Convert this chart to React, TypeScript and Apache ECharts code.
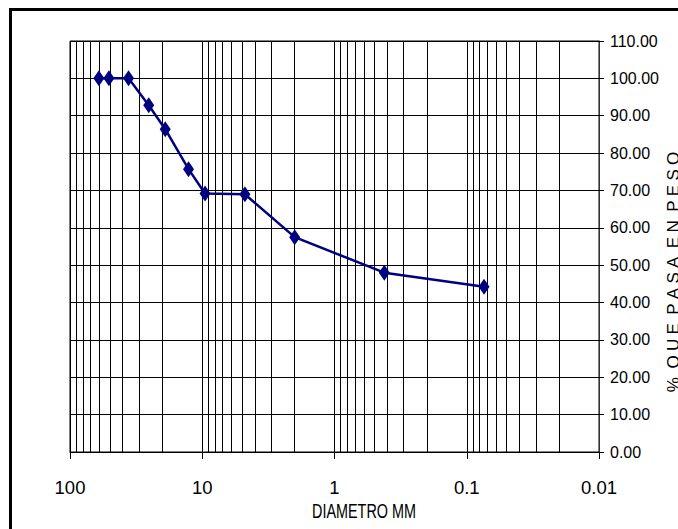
import React, { useEffect, useRef } from "react";
import * as echarts from "echarts";

// Sieve diameters (mm) and percent passing
const diameters = [60.5, 50.8, 36.1, 25.4, 19.05, 12.7, 9.525, 4.76, 2.0, 0.42, 0.074];
const passing = [100, 100, 100, 92.8, 86.4, 75.7, 69.2, 69.0, 57.5, 48.0, 44.2];

// Log-paper grid: decades and minor multipliers
const decades = [0.01, 0.1, 1, 10];
const minorMultipliers = [2, 3, 4, 5, 6, 7, 8, 9];

const xTitle = "DIAMETRO MM";
const yTitle =
  "%\u2002Q\u2005U\u2005E\u2002P\u2005A\u2005S\u2005A\u2002E\u2005N\u2002P\u2005E\u2005S\u2005O";

export default function App() {
  const ref = useRef<HTMLDivElement>(null);
  useEffect(() => {
    if (!ref.current) return;
    const chart = echarts.init(ref.current, null, { renderer: "svg" });
    const gridValues: number[] = [];
    decades.forEach((d) => {
      if (d > 0.01) gridValues.push(d);
      minorMultipliers.forEach((m) => gridValues.push(parseFloat((d * m).toPrecision(6))));
    });
    const font = "'Liberation Sans', Arial, sans-serif";
    chart.setOption({
      animation: false,
      backgroundColor: "#ffffff",
      grid: {
        left: 70,
        top: 41,
        right: 79,
        bottom: 77,
        show: true,
        borderColor: "#000",
        borderWidth: 1,
      },
      xAxis: {
        type: "log",
        logBase: 10,
        min: 0.01,
        max: 100,
        inverse: true,
        axisLine: { lineStyle: { color: "#000", width: 1 } },
        axisTick: { show: true, length: 7, lineStyle: { color: "#000", width: 1 } },
        minorTick: { show: false },
        splitLine: { show: true, lineStyle: { color: "#000", width: 1 } },
        axisLabel: {
          margin: 26,
          fontFamily: font,
          fontSize: 18.5,
          color: "#000",
          formatter: (v: number) => String(parseFloat(v.toPrecision(6))),
        },
      },
      yAxis: {
        type: "value",
        position: "right",
        min: 0,
        max: 110,
        interval: 10,
        axisLine: { show: true, lineStyle: { color: "#333", width: 1 } },
        axisTick: { show: true, length: 5, lineStyle: { color: "#000", width: 1 } },
        splitLine: { show: true, lineStyle: { color: "#000", width: 1 } },
        axisLabel: {
          margin: 11,
          fontFamily: font,
          fontSize: 16,
          color: "#000",
          formatter: (v: number) => v.toFixed(2),
        },
      },
      graphic: [
        {
          type: "rect",
          shape: { x: 10.5, y: 9.5, width: 720, height: 600 },
          style: { fill: "none", stroke: "#000", lineWidth: 3 },
          silent: true,
        },
        {
          type: "text",
          x: 364,
          y: 511,
          scaleX: 0.72,
          style: {
            text: xTitle,
            fontFamily: font,
            fontSize: 20,
            fill: "#000",
            align: "center",
            verticalAlign: "middle",
          },
        },
        {
          type: "text",
          x: 673,
          y: 272,
          rotation: Math.PI / 2,
          style: {
            text: yTitle,
            fontFamily: font,
            fontSize: 17,
            fill: "#000",
            align: "center",
            verticalAlign: "middle",
          },
        },
      ],
      series: [
        {
          type: "line",
          data: diameters.map((d, i) => [d, passing[i]]),
          symbol: "diamond",
          symbolSize: [11, 16],
          lineStyle: { color: "#000080", width: 2.5 },
          itemStyle: { color: "#000080" },
          z: 5,
          markLine: {
            silent: true,
            symbol: "none",
            label: { show: false },
            lineStyle: { color: "#000", width: 1, type: "solid" },
            data: gridValues.map((v) => ({ xAxis: v })),
            z: 1,
          },
        },
      ],
    });
    return () => chart.dispose();
  }, []);
  return (
    <div
      ref={ref}
      style={{ position: "fixed", left: 0, top: 0, width: 678, height: 529, background: "#fff" }}
    />
  );
}
